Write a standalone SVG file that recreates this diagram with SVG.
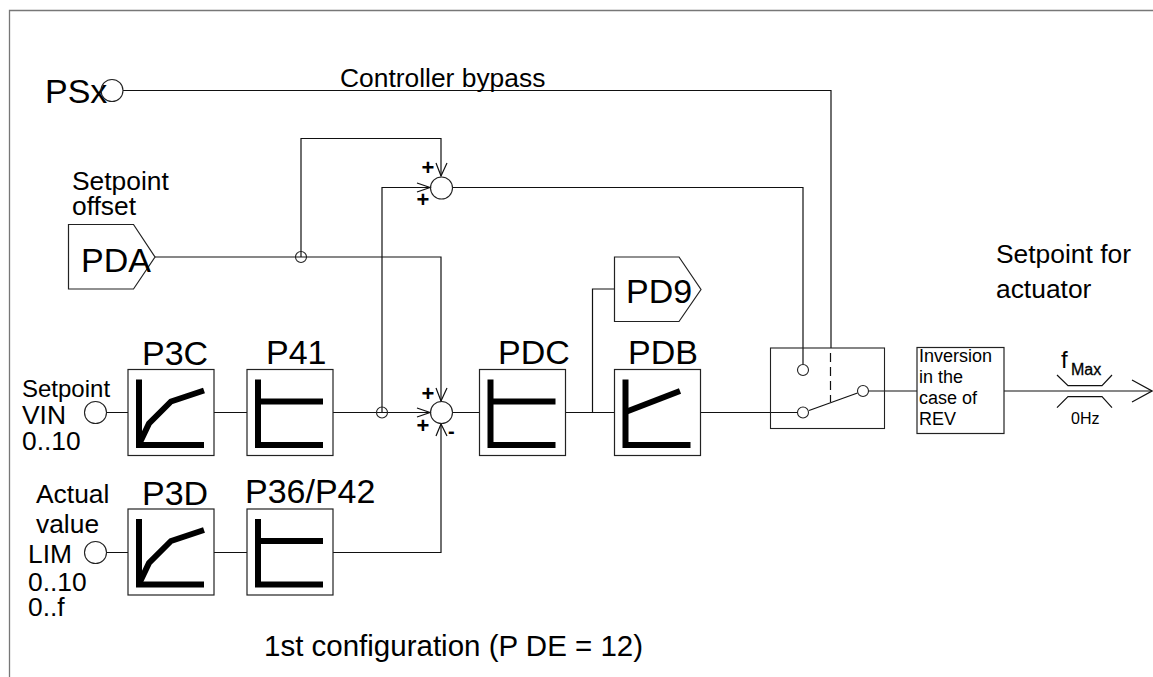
<svg xmlns="http://www.w3.org/2000/svg" xmlns:xlink="http://www.w3.org/1999/xlink" width="1153" height="677" viewBox="0 0 1153 677">
<style>
text{font-family:"Liberation Sans",Arial,sans-serif;fill:#000;font-size:26.400px}
.big{font-size:34px}
.sm{font-size:18px}
.xs{font-size:16px}
.pm{font-size:22px;font-weight:bold}
.l{fill:none;stroke:#111;stroke-width:1.200}
.b{fill:#fff;stroke:#222;stroke-width:1.200}
.c{fill:none;stroke:#222;stroke-width:1.100}
.g{fill:none;stroke:#000;stroke-width:6}
</style>
<defs>
<g id="axes"><path class="g" d="M11 10V76M8 75.500H76"/></g>
<g id="curve"><use xlink:href="#axes"/><path class="g" d="M11 75L21 54L43 32L76 21"/></g>
<g id="limit"><use xlink:href="#axes"/><path class="g" d="M11 32H76"/></g>
</defs>
<rect width="1153" height="677" fill="#fff"/>
<path d="M9.500 677V10.500H1153" fill="none" stroke="#777" stroke-width="1.300"/>
<g id="connectors">
<path class="l" d="M123 90.500H831V348"/>
<path class="l" d="M155 257H441V401"/>
<path class="l" d="M301 257V138.500H441V176"/>
<path class="l" d="M382 412V187.500H430"/>
<path class="l" d="M452 187.500H803V364"/>
<path class="l" d="M107 412.500H128M214 412.500H247M333 412.500H430"/>
<path class="l" d="M107 552.500H128M214 552.500H247M333 552.500H441V424"/>
<path class="l" d="M452 412.500H479M566 412.500H614M592.500 412.500V289H614"/>
<path class="l" d="M701 412.500H797"/>
<path class="l" d="M809 410.500L857.500 393"/>
<path class="l" d="M869 391H917M1004 391H1152"/>
<path class="l" d="M830.500 353V402" stroke-dasharray="9 5"/>
<path class="l" d="M436 163L441 176L447 163M417 183L430 187.500L417 192"/>
<path class="l" d="M436 388L441 401L447 388M417 408L430 412.500L417 417M436 436L441 424L447 436"/>
<path class="l" d="M1132 380L1152 391L1132 402"/>
</g>
<g id="limiter"><path class="l" d="M1057 375L1068 385.700H1102L1112 375M1057 407.700L1068 396.700H1102L1112 407.700"/></g>
<g id="frame-label"><text x="264" y="656" style="font-size:29.500px">1st configuration (P DE = 12)</text></g>
<g id="psx"><text class="big" x="45" y="103">PSx</text><circle class="c" cx="112" cy="90.500" r="11"/></g>
<g id="bypass-label"><text x="340" y="87">Controller bypass</text></g>
<g id="pda"><text x="72" y="190">Setpoint</text><text x="72" y="215">offset</text><path class="b" d="M68.500 224.500H133.500L155 257L133.500 289H68.500Z"/><text class="big" x="81" y="272">PDA</text></g>
<g id="junction-top"><circle class="c" cx="301" cy="257" r="5.500"/></g>
<g id="junction-mid"><circle class="c" cx="382" cy="412.500" r="5.500"/></g>
<g id="sum-top"><circle class="c" cx="441.500" cy="188" r="11"/><text class="pm" x="421.600" y="174.500">+</text><text class="pm" x="416.600" y="206.500">+</text></g>
<g id="sum-main"><circle class="c" cx="441.500" cy="412.500" r="11"/><text class="pm" x="421.600" y="400.500">+</text><text class="pm" x="416.600" y="432.500">+</text><text class="pm" x="448" y="438" style="font-size:20px">-</text></g>
<g id="vin"><text x="22" y="397" style="font-size:24px">Setpoint</text><text x="22" y="424">VIN</text><text x="22" y="450">0..10</text><circle class="c" cx="95.500" cy="412.500" r="11"/></g>
<g id="lim"><text x="36" y="503">Actual</text><text x="36" y="533">value</text><text x="28" y="563">LIM</text><text x="28" y="591">0..10</text><text x="28" y="616">0..f</text><circle class="c" cx="95.500" cy="552.500" r="11"/></g>
<g id="p3c"><rect class="b" x="128" y="369.500" width="86" height="86"/><use xlink:href="#curve" x="128" y="369.500"/><text class="big" x="142" y="365">P3C</text></g>
<g id="p41"><rect class="b" x="247" y="369.500" width="86" height="86"/><use xlink:href="#limit" x="247" y="369.500"/><text class="big" x="266" y="364">P41</text></g>
<g id="p3d"><rect class="b" x="128" y="509" width="86" height="86"/><use xlink:href="#curve" x="128" y="509"/><text class="big" x="142" y="505">P3D</text></g>
<g id="p36-p42"><rect class="b" x="247" y="509" width="86" height="86"/><use xlink:href="#limit" x="247" y="509"/><text class="big" x="245" y="503">P36/P42</text></g>
<g id="pdc"><rect class="b" x="479.500" y="369.500" width="86" height="86"/><use xlink:href="#limit" x="479.500" y="369.500"/><text class="big" x="498" y="364">PDC</text></g>
<g id="pdb"><rect class="b" x="614.500" y="369.500" width="86" height="86"/><use xlink:href="#axes" x="614.500" y="369.500"/><path class="g" d="M625.500 412L680 391"/><text class="big" x="628" y="364">PDB</text></g>
<g id="pd9"><path class="b" d="M614.500 257H679L701 289.500L679 321.500H614.500Z"/><text class="big" x="626" y="303">PD9</text></g>
<g id="switch"><rect class="c" x="770.500" y="348" width="114" height="80.500"/><circle class="c" cx="803" cy="370" r="5.500"/><circle class="c" cx="803" cy="412.500" r="5.500"/><circle class="c" cx="863" cy="391" r="5.500"/></g>
<g id="inversion"><rect class="b" x="917" y="347.500" width="87" height="86"/><text class="sm" x="919" y="362">Inversion</text><text class="sm" x="919" y="383">in the</text><text class="sm" x="919" y="404">case of</text><text class="sm" x="919" y="425">REV</text></g>
<g id="output"><text x="996" y="263">Setpoint for</text><text x="996" y="298">actuator</text><text x="1061" y="368" style="font-size:24px">f</text><text class="xs" x="1071" y="375" stroke="#000" stroke-width=".3">Max</text><text class="xs" x="1071" y="424">0Hz</text></g>
</svg>
